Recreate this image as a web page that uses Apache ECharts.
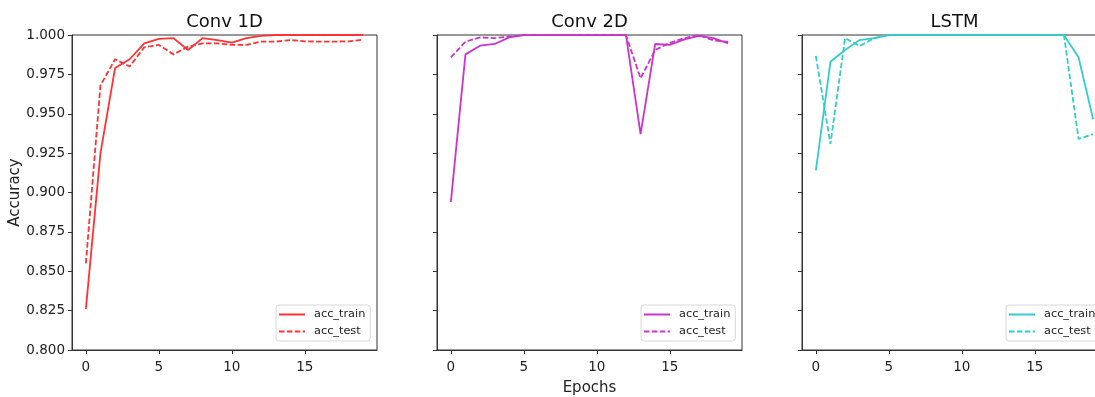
<!DOCTYPE html>
<html>
<head>
<meta charset="utf-8">
<script src="https://cdn.jsdelivr.net/npm/echarts@6/dist/echarts.min.js"></script>
<style>html,body{margin:0;padding:0;background:#fff;}#c{width:1095px;height:397px;}</style>
</head>
<body>
<div id="c"></div>
<script>
const epochs = [0,1,2,3,4,5,6,7,8,9,10,11,12,13,14,15,16,17,18,19];
const xTicks = [0,5,10,15];
const titles = ['Conv 1D','Conv 2D','LSTM'];
const seriesNames = ['acc_train','acc_test'];

const conv1dTrain = [0.826,0.925,0.979,0.9846,0.9947,0.9975,0.998,0.9905,0.998,0.9968,0.9951,0.998,0.9995,1.0,1.0,1.0,1.0,1.0,1.0,1.0];
const conv1dTest  = [0.855,0.968,0.9846,0.980,0.9922,0.9937,0.9877,0.9926,0.9947,0.9947,0.9937,0.9937,0.9958,0.9958,0.9968,0.996,0.9958,0.9958,0.996,0.997];
const conv2dTrain = [0.894,0.9877,0.9932,0.9943,0.9985,0.9999,0.9999,0.9999,0.9999,0.9999,0.9999,0.9999,0.9999,0.937,0.9943,0.9937,0.9972,0.9994,0.998,0.9947];
const conv2dTest  = [0.9858,0.9958,0.9985,0.998,0.999,0.9999,0.9999,0.9999,0.9999,0.9999,0.9999,0.9999,0.9999,0.9725,0.9905,0.995,0.998,0.9999,0.9966,0.9956];
const lstmTrain   = [0.914,0.983,0.9905,0.9968,0.998,0.9999,0.9999,0.9999,0.9999,0.9999,0.9999,0.9999,0.9999,0.9999,0.9999,0.9999,0.9999,0.9999,0.9858,0.9465];
const lstmTest    = [0.9867,0.9308,0.998,0.993,0.998,0.9999,0.9999,0.9999,0.9999,0.9999,0.9999,0.9999,0.9999,0.9999,0.9999,0.9999,0.9999,0.9999,0.934,0.937];

const panelData = [[conv1dTrain, conv1dTest],[conv2dTrain, conv2dTest],[lstmTrain, lstmTest]];
const colors = ['#ff3333','#cc33cc','#33cccc'];

const gridLefts = [72, 437, 802];
const gridWidth = 305;
const gridTop = 35, gridHeight = 315;
const font = 'DejaVu Sans';

const chart = echarts.init(document.getElementById('c'), null, {renderer:'canvas'});

const grids = [], xAxes = [], yAxes = [], series = [], legends = [], graphics = [];
for (let p = 0; p < 3; p++) {
  grids.push({left: gridLefts[p], top: gridTop, width: gridWidth, height: gridHeight,
    show: true, borderColor: '#333', borderWidth: 1, backgroundColor: 'transparent',
    containLabel: false, outerBoundsMode: 'none'});
  xAxes.push({type:'value', gridIndex:p, min:-0.95, max:19.95,
    axisLine:{show:true, onZero:false, lineStyle:{color:'#333', width:1}},
    axisTick:{show:true, length:4, lineStyle:{color:'#333', width:1}, customValues: xTicks},
    axisLabel:{show:true, color:'#222', fontSize:13.5, fontFamily:font, margin:10, customValues: xTicks},
    splitLine:{show:false},
    name: p === 1 ? 'Epochs' : '', nameLocation:'middle', nameGap:31,
    nameTextStyle:{fontSize:15, fontFamily:font, color:'#222'}
  });
  yAxes.push({type:'value', gridIndex:p, min:0.8, max:1.0, interval:0.025,
    axisLine:{show:true, onZero:false, lineStyle:{color:'#333', width:1}},
    axisTick:{show:true, length:4, lineStyle:{color:'#333', width:1}},
    axisLabel:{show: p === 0, color:'#222', fontSize:13.5, fontFamily:font, margin:7,
      formatter: v => v.toFixed(3)},
    splitLine:{show:false},
    name: p === 0 ? 'Accuracy' : '', nameLocation:'middle', nameRotate:90, nameGap:46,
    nameTextStyle:{fontSize:15, fontFamily:font, color:'#222'}
  });
  const names = [];
  for (let s = 0; s < 2; s++) {
    const nm = seriesNames[s] + '|' + p;
    names.push(nm);
    series.push({type:'line', name:nm, xAxisIndex:p, yAxisIndex:p,
      data: epochs.map((e,i) => [e, panelData[p][s][i]]),
      symbol:'none', showSymbol:false, smooth:false, animation:false, clip:true,
      color: colors[p],
      lineStyle:{color: colors[p], width:1.8, type: s === 0 ? 'solid' : [5.5, 2.4]}
    });
  }
  legends.push({data: names, orient:'vertical', left: gridLefts[p] + 204, top: 305,
    itemWidth: 26, itemHeight: 12, itemGap: 6,
    padding:[4,5,4,2], borderColor:'#d8d8d8', borderWidth:1, borderRadius:3,
    backgroundColor:'rgba(255,255,255,0.8)',
    itemStyle:{opacity:0, color:'transparent', borderWidth:0},
    formatter: n => n.split('|')[0],
    textStyle:{fontSize:11.3, fontFamily:font, color:'#222', padding:[0,0,0,4]},
    selectedMode:false
  });
  graphics.push({type:'text', x: gridLefts[p] + gridWidth/2, y: 22,
    style:{text: titles[p], font: '18px "DejaVu Sans"', fill:'#111', textAlign:'center', textVerticalAlign:'middle'}});
}

chart.setOption({
  animation:false,
  backgroundColor:'#fff',
  grid: grids, xAxis: xAxes, yAxis: yAxes, series: series, legend: legends,
  graphic: graphics
});
</script>
</body>
</html>
